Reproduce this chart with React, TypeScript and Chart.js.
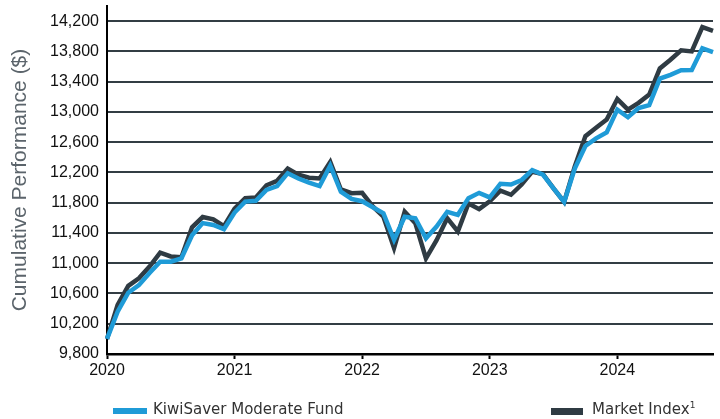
import { useEffect, useRef } from 'react';
import { Chart, registerables } from 'chart.js';

Chart.register(...registerables);

const months = [
  '2020-01', '2020-02', '2020-03', '2020-04', '2020-05', '2020-06', '2020-07', '2020-08', '2020-09', '2020-10', '2020-11', '2020-12',
  '2021-01', '2021-02', '2021-03', '2021-04', '2021-05', '2021-06', '2021-07', '2021-08', '2021-09', '2021-10', '2021-11', '2021-12',
  '2022-01', '2022-02', '2022-03', '2022-04', '2022-05', '2022-06', '2022-07', '2022-08', '2022-09', '2022-10', '2022-11', '2022-12',
  '2023-01', '2023-02', '2023-03', '2023-04', '2023-05', '2023-06', '2023-07', '2023-08', '2023-09', '2023-10', '2023-11', '2023-12',
  '2024-01', '2024-02', '2024-03', '2024-04', '2024-05', '2024-06', '2024-07', '2024-08', '2024-09', '2024-10',
];

const fundValues = [
  10000, 10360, 10610, 10710, 10870, 11020, 11020, 11065, 11370, 11530, 11505, 11450,
  11670, 11815, 11825, 11970, 12020, 12190, 12120, 12065, 12020, 12290, 11945, 11850,
  11820, 11740, 11660, 11310, 11615, 11595, 11330, 11485, 11680, 11640, 11860, 11930,
  11870, 12050, 12040, 12100, 12230, 12170, 11990, 11810, 12250, 12550, 12650, 12730,
  13030, 12930, 13050, 13090, 13440, 13490, 13550, 13555, 13840, 13790,
];

const indexValues = [
  10000, 10450, 10700, 10800, 10955, 11140, 11090, 11080, 11475, 11610, 11580, 11490,
  11720, 11860, 11870, 12030, 12090, 12250, 12170, 12130, 12120, 12340, 11975, 11925,
  11930, 11750, 11615, 11200, 11680, 11530, 11065, 11305, 11595, 11420, 11790, 11715,
  11820, 11960, 11905, 12040, 12210, 12180, 11990, 11810, 12280, 12680, 12790, 12900,
  13170, 13030, 13120, 13230, 13575, 13690, 13815, 13800, 14120, 14070,
];

const yTickValues = [9800, 10200, 10600, 11000, 11400, 11800, 12200, 12600, 13000, 13400, 13800, 14200];

const seriesNames = ['KiwiSaver Moderate Fund', 'Market Index'];

const BLUE = '#1f9bd7';
const DARK = '#2f3b43';
const AXIS_FONT = '"Liberation Sans", Arial, sans-serif';

export default function App() {
  const ref = useRef<HTMLCanvasElement>(null);

  useEffect(() => {
    const chart = new Chart(ref.current as HTMLCanvasElement, {
      type: 'line',
      data: {
        labels: months,
        datasets: [
          {
            label: seriesNames[0],
            data: fundValues,
            borderColor: BLUE,
            backgroundColor: BLUE,
            borderWidth: 4.5,
            pointRadius: 0,
            tension: 0,
          },
          {
            label: seriesNames[1],
            data: indexValues,
            borderColor: DARK,
            backgroundColor: DARK,
            borderWidth: 4.5,
            pointRadius: 0,
            tension: 0,
          },
        ],
      },
      options: {
        responsive: false,
        animation: false,
        layout: { padding: { top: 6, right: 7, left: 0, bottom: 0 } },
        plugins: {
          legend: { display: false },
          tooltip: { enabled: false },
        },
        scales: {
          x: {
            type: 'category',
            offset: false,
            afterFit: (s: any) => {
              s.height = 65;
            },
            afterBuildTicks: (s: any) => {
              s.ticks = s.ticks.filter((t: any) => months[t.value].endsWith('-01'));
            },
            ticks: {
              autoSkip: false,
              maxRotation: 0,
              padding: 2,
              color: '#111',
              font: { family: AXIS_FONT, size: 16 },
              callback: (v: any) => months[v].slice(0, 4),
            },
            grid: {
              drawOnChartArea: false,
              drawTicks: true,
              tickLength: 5,
              tickColor: '#000',
              tickWidth: 2,
            },
            border: { color: '#000', width: 2.5 },
          },
          y: {
            min: 9800,
            max: 14400,
            afterFit: (s: any) => {
              s.width = 107;
              s.paddingTop = 0;
              s.paddingBottom = 0;
            },
            afterBuildTicks: (s: any) => {
              s.ticks = yTickValues.map((v) => ({ value: v }));
            },
            ticks: {
              padding: 8,
              color: '#111',
              font: { family: AXIS_FONT, size: 16 },
              callback: (v: any) => Number(v).toLocaleString('en-US'),
            },
            grid: { color: '#333d44', lineWidth: 2, drawTicks: false },
            border: { color: '#000', width: 2 },
            title: {
              display: true,
              text: 'Cumulative Performance ($)',
              color: '#5b646b',
              font: { family: AXIS_FONT, size: 21, lineHeight: 1.2 },
              padding: { top: 8, bottom: 0 },
            },
          },
        },
      },
    });
    return () => chart.destroy();
  }, []);

  const legendText: React.CSSProperties = {
    position: 'absolute',
    top: 402,
    font: '15px "DejaVu Sans", sans-serif',
    lineHeight: '15px',
    color: '#333',
    whiteSpace: 'nowrap',
  };

  return (
    <div style={{ position: 'absolute', left: 0, top: 0, width: 720, height: 419, background: '#fff', overflow: 'hidden' }}>
      <canvas ref={ref} width={720} height={419} style={{ display: 'block' }} />
      <div style={{ position: 'absolute', left: 113, top: 408, width: 34, height: 6, background: BLUE }} />
      <span style={{ ...legendText, left: 153 }}>{seriesNames[0]}</span>
      <div style={{ position: 'absolute', left: 551, top: 408, width: 32, height: 7, background: DARK }} />
      <span style={{ ...legendText, left: 592 }}>
        {seriesNames[1]}
        <sup style={{ fontSize: 9, lineHeight: 0, verticalAlign: 'super' }}>1</sup>
      </span>
    </div>
  );
}
